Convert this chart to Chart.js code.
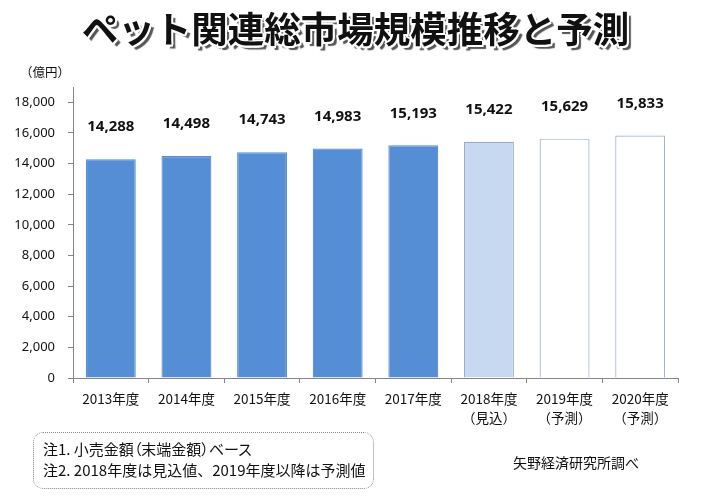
<!DOCTYPE html>
<html>
<head>
<meta charset="utf-8">
<script src="https://cdn.jsdelivr.net/npm/chart.js@4/dist/chart.umd.min.js"></script>
<style>
  html, body { margin: 0; padding: 0; background: #fff; }
  body { width: 711px; height: 504px; position: relative; overflow: hidden; font-family: "Noto Sans CJK JP", "Noto Sans", sans-serif; }
  #wrap { position: absolute; left: 0; top: 0; width: 711px; height: 504px; }
  #title { position: absolute; left: 0; width: 711px; top: 6px; text-align: center; font-size: 36.5px; font-weight: bold; color: #111; letter-spacing: 0px;
    line-height: 44px;
    text-shadow: 2px 0 0 #fff, -2px 0 0 #fff, 0 2px 0 #fff, 0 -2px 0 #fff, 1.5px 1.5px 0 #fff, -1.5px -1.5px 0 #fff, 1.5px -1.5px 0 #fff, -1.5px 1.5px 0 #fff, 4px 4px 1px #555; }
  #unit { position: absolute; left: 20px; top: 62px; font-size: 12.5px; color: #111; }
  #notes { position: absolute; left: 33px; top: 432px; width: 341px; height: 57px; border: 1px dotted #888; border-radius: 10px; box-sizing: border-box; padding: 5px 0 0 9px; font-size: 15px; line-height: 21px; color: #111; }
  .palt { font-feature-settings: "palt"; }
  #src { position: absolute; left: 513px; top: 452px; font-size: 14px; color: #111; }
</style>
</head>
<body>
<div id="wrap"><canvas id="c" width="711" height="504"></canvas></div>
<div id="title">ペット関連総市場規模推移と予測</div>
<div id="unit">（億円）</div>
<div id="notes"><span class="palt">注1. 小売金額（末端金額）ベース</span><br>注2. 2018年度は見込値、2019年度以降は予測値</div>
<div id="src">矢野経済研究所調べ</div>
<script>
const categories = ['2013年度', '2014年度', '2015年度', '2016年度', '2017年度', '2018年度', '2019年度', '2020年度'];
const subLabels = ['', '', '', '', '', '（見込）', '（予測）', '（予測）'];
const marketValues = [14288, 14498, 14743, 14983, 15193, 15422, 15629, 15833];
const yTicks = [0, 2000, 4000, 6000, 8000, 10000, 12000, 14000, 16000, 18000];

const fills = ['#558ED5', '#558ED5', '#558ED5', '#558ED5', '#558ED5', '#C6D9F1', '#FFFFFF', '#FFFFFF'];
const borders = ['#5A8FD3', '#5A8FD3', '#5A8FD3', '#5A8FD3', '#5A8FD3', '#93AED0', '#9DB2CC', '#9DB2CC'];

const labels = categories.map((c, i) => subLabels[i] ? [c, subLabels[i]] : c);
const fmt = v => v.toLocaleString('en-US');

const valueLabels = {
  id: 'valueLabels',
  afterDatasetsDraw(chart) {
    const ctx = chart.ctx;
    const meta = chart.getDatasetMeta(0);
    ctx.save();
    ctx.font = 'bold 15px "Noto Sans", "DejaVu Sans", sans-serif';
    ctx.fillStyle = '#111';
    ctx.textAlign = 'center';
    ctx.textBaseline = 'middle';
    meta.data.forEach((bar, i) => {
      ctx.fillText(fmt(marketValues[i]), bar.x, bar.y - 32);
    });
    ctx.restore();
  }
};

new Chart(document.getElementById('c'), {
  type: 'bar',
  data: {
    labels: labels,
    datasets: [{
      data: marketValues,
      backgroundColor: fills,
      borderColor: borders,
      borderWidth: 1.2,
      barPercentage: 0.66,
      categoryPercentage: 1
    }]
  },
  options: {
    responsive: false,
    animation: false,
    devicePixelRatio: 1,
    layout: { padding: { top: 87, left: 0, right: 33, bottom: 0 } },
    plugins: { legend: { display: false }, tooltip: { enabled: false }, title: { display: false } },
    scales: {
      x: {
        offset: true,
        grid: { display: true, offset: true, drawOnChartArea: false, drawTicks: true, tickLength: 5, color: '#868686' },
        border: { display: true, color: '#868686', width: 1 },
        ticks: { color: '#111', font: { family: '"Noto Sans CJK JP", sans-serif', size: 13.5, lineHeight: 1.45 }, padding: 6, maxRotation: 0, autoSkip: false },
        afterFit(s) { s.height = 126; }
      },
      y: {
        min: 0,
        max: 19000,
        afterBuildTicks(s) { s.ticks = yTicks.map(v => ({ value: v })); },
        grid: { display: true, drawOnChartArea: false, drawTicks: true, tickLength: 5, color: '#868686' },
        border: { display: true, color: '#868686', width: 1 },
        ticks: { color: '#111', font: { family: '"Noto Sans", sans-serif', size: 13 }, padding: 13, callback: v => fmt(v) },
        afterFit(s) { s.width = 73; }
      }
    }
  },
  plugins: [valueLabels]
});
</script>
</body>
</html>
